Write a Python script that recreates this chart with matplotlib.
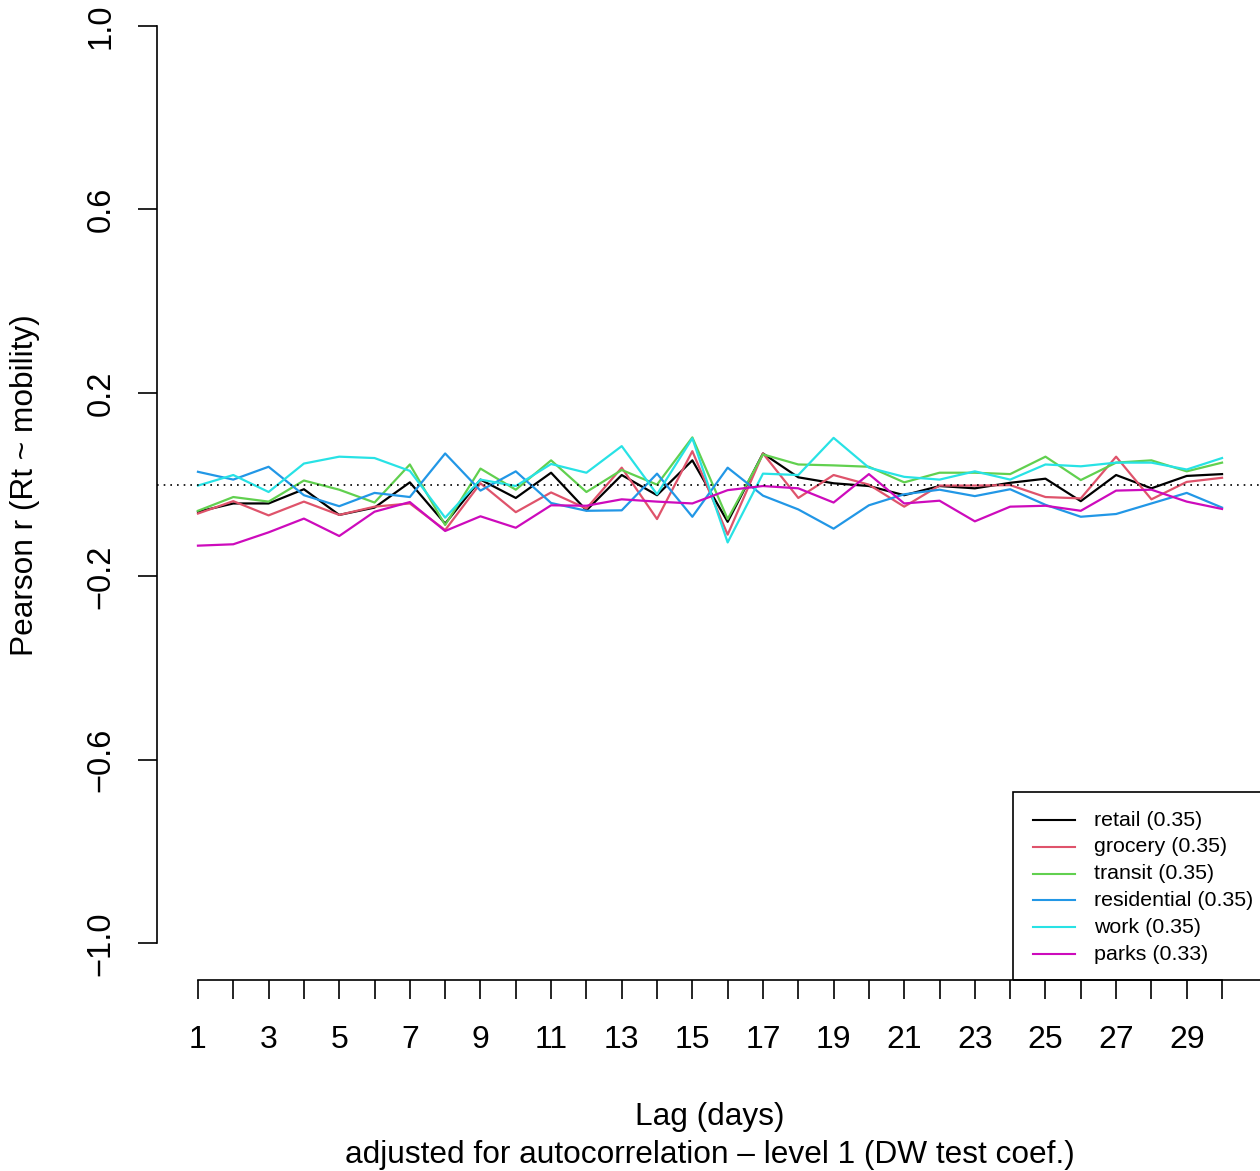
import numpy as np
import matplotlib
matplotlib.use("Agg")
import matplotlib.pyplot as plt
from matplotlib.patches import Rectangle
from matplotlib.lines import Line2D

plt.rcParams['font.family'] = ['Liberation Sans', 'DejaVu Sans']

# -----------------------------------
#   DATA
# -----------------------------------
lags = list(range(1, 31))

retail = [-0.059, -0.041, -0.041, -0.010, -0.066, -0.050, 0.005, -0.085, 0.011, -0.029,
          0.026, -0.056, 0.021, -0.023, 0.053, -0.081, 0.068, 0.016, 0.003, -0.003,
          -0.023, -0.003, -0.008, 0.004, 0.013, -0.036, 0.021, -0.008, 0.019, 0.023]
grocery = [-0.063, -0.036, -0.067, -0.037, -0.066, -0.048, -0.041, -0.099, 0.003, -0.060,
           -0.017, -0.052, 0.037, -0.075, 0.073, -0.109, 0.068, -0.029, 0.021, 0.000,
           -0.048, -0.002, -0.002, -0.001, -0.027, -0.030, 0.061, -0.032, 0.006, 0.015]
transit = [-0.057, -0.027, -0.037, 0.009, -0.011, -0.039, 0.044, -0.088, 0.035, -0.011,
           0.053, -0.016, 0.032, 0.000, 0.103, -0.075, 0.066, 0.044, 0.042, 0.039,
           0.005, 0.026, 0.026, 0.023, 0.061, 0.010, 0.048, 0.053, 0.029, 0.048]
residential = [0.028, 0.011, 0.039, -0.023, -0.047, -0.018, -0.027, 0.068, -0.013, 0.029,
               -0.040, -0.057, -0.056, 0.024, -0.070, 0.037, -0.024, -0.054, -0.096, -0.045,
               -0.021, -0.011, -0.025, -0.010, -0.044, -0.070, -0.064, -0.041, -0.018, -0.050]
work = [-0.002, 0.021, -0.016, 0.046, 0.061, 0.058, 0.030, -0.072, 0.011, -0.003,
        0.045, 0.026, 0.084, -0.021, 0.101, -0.126, 0.024, 0.021, 0.102, 0.037,
        0.017, 0.011, 0.029, 0.011, 0.044, 0.040, 0.048, 0.048, 0.033, 0.058]
parks = [-0.133, -0.130, -0.104, -0.074, -0.112, -0.059, -0.038, -0.101, -0.069, -0.094,
         -0.045, -0.046, -0.032, -0.037, -0.041, -0.012, -0.003, -0.008, -0.039, 0.023,
         -0.041, -0.035, -0.080, -0.048, -0.046, -0.057, -0.013, -0.011, -0.037, -0.053]

series = [retail, grocery, transit, residential, work, parks]
labels = ["retail (0.35)", "grocery (0.35)", "transit (0.35)",
          "residential (0.35)", "work (0.35)", "parks (0.33)"]
colores = ["#000000", "#DF536B", "#61D04F", "#2297E6", "#28E2E5", "#CD0BBC"]

yticks = [-1.0, -0.6, -0.2, 0.2, 0.6, 1.0]
ytick_labels = ["\u22121.0", "\u22120.6", "\u22120.2", "0.2", "0.6", "1.0"]

# -----------------------------------
#   FIGURA
# -----------------------------------
W, H = 1260, 1171
fig = plt.figure(figsize=(W / 100, H / 100), dpi=100)

def fx(px):
    return px / W

def fy(py):
    return 1 - py / H

# plot region like R (4% padding around the data range)
left, right, top, bottom = 157, 1263, -10.7, 980
ax = fig.add_axes([fx(left), fy(bottom), fx(right - left), (bottom - top) / H])
ax.set_xlim(1 - 0.04 * 29, 30 + 0.04 * 29)
ax.set_ylim(-1.08, 1.08)

for s, c in zip(series, colores):
    ax.plot(lags, s, color=c, lw=1.6)

ax.axhline(0, color="black", lw=1.2, dashes=(1, 3))

for side in ("top", "right"):
    ax.spines[side].set_visible(False)
ax.spines["left"].set_bounds(-1, 1)
ax.spines["bottom"].set_bounds(1, 30)
ax.spines["left"].set_linewidth(1.2)
ax.spines["bottom"].set_linewidth(1.2)

ax.set_yticks(yticks)
ax.set_yticklabels(ytick_labels, rotation=90, va="center", ha="center")
ax.set_xticks(lags)
ax.set_xticklabels([str(l) if l % 2 == 1 else "" for l in lags], va="center")
ax.tick_params(axis="y", length=13.7, width=1.2, pad=26.6, labelsize=23.5)
ax.tick_params(axis="x", length=13.7, width=1.2, pad=29.5, labelsize=23)

fig.text(fx(25), fy(485), "Pearson r (Rt ~ mobility)", rotation=90,
         ha="center", va="center", fontsize=22.8)
fig.text(fx(710), fy(1117), "Lag (days)", ha="center", va="center", fontsize=22.8)
fig.text(fx(710), fy(1155), "adjusted for autocorrelation \u2013 level 1 (DW test coef.)",
         ha="center", va="center", fontsize=22.8)

# -----------------------------------
#   LEYENDA
# -----------------------------------
fig.patches.append(Rectangle((fx(1013), fy(980)), fx(260), (980 - 792) / H,
                             transform=fig.transFigure, fill=False,
                             edgecolor="black", lw=1.2))
for i, (lab, c) in enumerate(zip(labels, colores)):
    yy = 820 + i * 26.8
    fig.add_artist(Line2D([fx(1033), fx(1075)], [fy(yy), fy(yy)],
                          transform=fig.transFigure, color=c, lw=1.5))
    fig.text(fx(1094), fy(yy), lab, ha="left", va="center", fontsize=15.4)

fig.savefig("out.png", dpi=100)
